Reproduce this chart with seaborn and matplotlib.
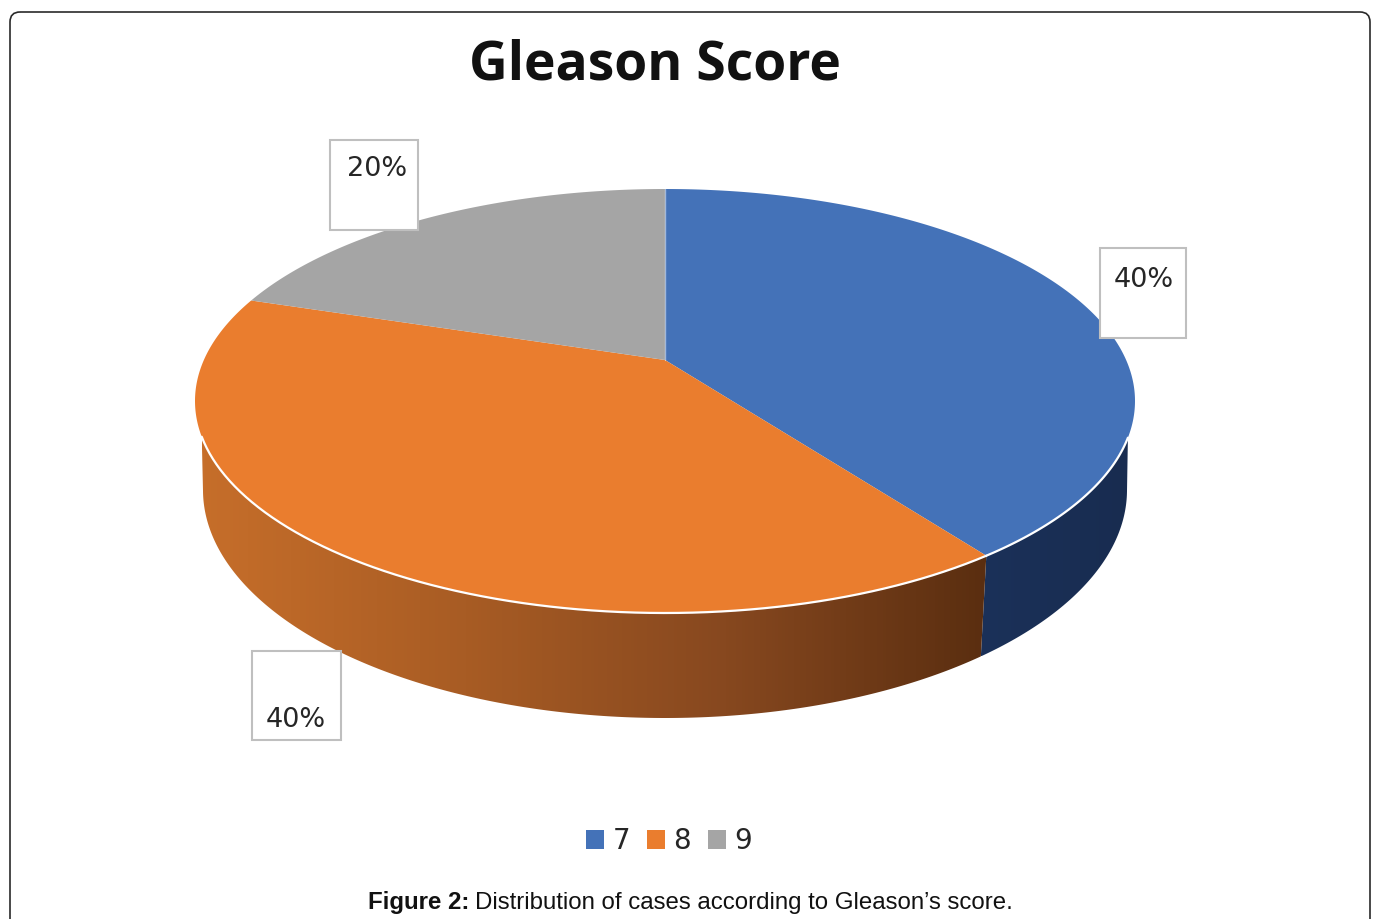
import numpy as np
import matplotlib
matplotlib.use("Agg")
import matplotlib.pyplot as plt
import seaborn as sns
from matplotlib.colors import LinearSegmentedColormap
from matplotlib.patches import FancyBboxPatch, Patch, Polygon, Rectangle
from matplotlib.path import Path

# ----- data -----
title = "Gleason Score"
scores = ["7", "8", "9"]
shares = [40, 40, 20]
share_labels = ["40%", "40%", "20%"]
caption_bold = "Figure 2:"
caption_rest = "Distribution of cases according to Gleason\u2019s score."

sns.set_theme(style="white")
palette = sns.color_palette(["#4472B8", "#EA7D2E", "#A5A5A5"])
wall_shades = [["#1B3159", "#182C50"], ["#C66E2A", "#A85C24", "#87481F", "#5A2E10"], ["#6B6B6B", "#6B6B6B"]]

W, H = 1373, 919
fig = plt.figure(figsize=(W / 100, H / 100), dpi=100, facecolor="white")
ax = fig.add_axes([0, 0, 1, 1])

# the library works out the slice angles, the slices are then tilted into perspective
wedges, _ = ax.pie(shares, colors=palette, startangle=90, counterclock=False,
                   wedgeprops=dict(edgecolor="none", linewidth=0, zorder=3))

# top face: ellipse centred on (665, 401), pie centre lands on (665, 360)
CX, CY, RX, RY = 665, 401, 470, 212
TILT = 41 / 212
# bottom rim
BY, BRX, BRY = 490, 462, 228


def top_xy(theta):
    t = np.radians(theta)
    x, y = np.cos(t), np.sin(t)
    w = 1 + TILT * y
    px = RX * np.sqrt(1 - TILT ** 2) * x / w
    py = RY * (y + TILT) / w
    return px, py


def bottom_xy(theta):
    px, py = top_xy(theta)
    return CX + px * BRX / RX, BY - py * BRY / RY


apex_x, apex_y = CX, CY - RY * TILT

for k, wedge in enumerate(wedges):
    th = np.linspace(wedge.theta1, wedge.theta2, 300)
    px, py = top_xy(th)
    top_x, top_y = CX + px, CY - py

    # side wall, only where it shows under the top face
    vis = top_y >= 436
    if vis.sum() > 1:
        bx, by = bottom_xy(th)
        low = by >= BY
        wall = np.column_stack([np.r_[top_x[vis], bx[low][::-1]], np.r_[top_y[vis], by[low][::-1]]])
        clip = Polygon(wall, closed=True, transform=ax.transData, facecolor="none", edgecolor="none")
        ax.add_patch(clip)
        cmap = LinearSegmentedColormap.from_list(f"wall{k}", wall_shades[k])
        img = ax.imshow(np.linspace(0, 1, 256)[None, :], cmap=cmap, aspect="auto", zorder=1,
                        extent=[wall[:, 0].min(), wall[:, 0].max(), wall[:, 1].max(), wall[:, 1].min()])
        img.set_clip_path(clip)
        # white rim along the front of the top face
        ax.plot(top_x[vis], top_y[vis], color="white", lw=1.6, zorder=4)
        if k == 0:
            # seam between the two walls, and the faint line on the top face
            ax.plot([top_x[-1], bx[-1]], [top_y[-1], by[-1]], color="white", lw=1.6, zorder=2)
            ax.plot([apex_x, top_x[-1]], [apex_y, top_y[-1]], color="white", lw=1, alpha=0.5, zorder=4)

    verts = np.column_stack([np.r_[apex_x, top_x, apex_x], np.r_[apex_y, top_y, apex_y]])
    codes = [Path.MOVETO] + [Path.LINETO] * (len(verts) - 2) + [Path.CLOSEPOLY]
    wedge._path = Path(verts, codes)

ax.set_aspect("auto")
ax.set_xlim(0, W)
ax.set_ylim(H, 0)
ax.axis("off")

# outer rounded frame, runs off the bottom of the picture
ax.add_patch(FancyBboxPatch((18, 20), 1344, H + 30, boxstyle="round,pad=8,rounding_size=10",
                            facecolor="none", edgecolor="#2A2A2A", linewidth=1.2, zorder=1))

# label boxes
boxes = [(1100, 248, 86, 90, 1144, 280), (252, 651, 89, 89, 296, 720), (330, 140, 88, 90, 377, 169)]
for lab, (bx0, by0, bw, bh, tx, ty) in zip(share_labels, boxes):
    ax.add_patch(Rectangle((bx0, by0), bw, bh, facecolor="white", edgecolor="#BFBFBF", linewidth=1.5, zorder=5))
    ax.text(tx, ty, lab, ha="center", va="center", fontsize=19.5, color="#262626", zorder=6)

ax.text(655, 65, title, ha="center", va="center", fontsize=38.5, fontweight="bold",
        family="Open Sans", color="#111111")

handles = [Patch(facecolor=c, edgecolor="none", label=s) for c, s in zip(palette, scores)]
ax.legend(handles=handles, loc="center", bbox_to_anchor=(669 / W, 1 - 841 / H), ncol=3, frameon=False,
          fontsize=20, handlelength=0.65, handleheight=0.65, handletextpad=0.3, columnspacing=0.6,
          labelcolor="#262626")

ax.text(469, 903, caption_bold, ha="right", va="center", fontsize=17.3, fontweight="bold",
        family="Liberation Sans", color="#111111")
ax.text(475, 903, caption_rest, ha="left", va="center", fontsize=17.3,
        family="Liberation Sans", color="#111111")

fig.savefig("out.png", dpi=100, facecolor="white")
